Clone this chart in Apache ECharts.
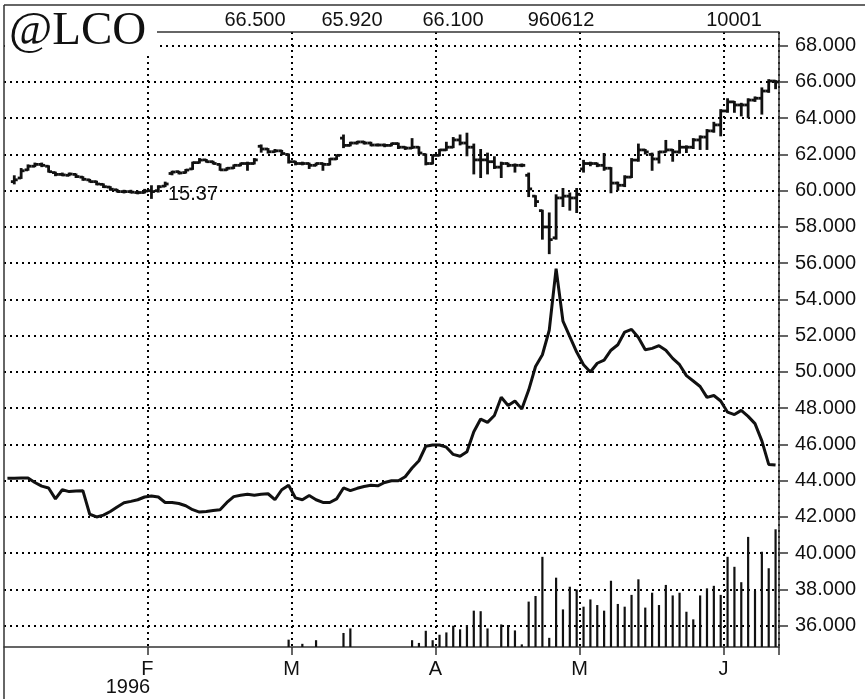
<!DOCTYPE html>
<html>
<head>
<meta charset="utf-8">
<title>@LCO</title>
<script src="https://cdn.jsdelivr.net/npm/echarts@6/dist/echarts.min.js"></script>
<style>
  html, body { margin: 0; padding: 0; background: #fff; }
  #chart { width: 865px; height: 699px; }
</style>
</head>
<body>
<div id="chart"></div>
<script>
// trading days per month (Jan..Jun 1996)
var monthNames = ['Jan', 'Feb', 'Mar', 'Apr', 'May', 'Jun'];
var tradingDays = [21, 21, 21, 21, 21, 8];
var yearLabel = '1996';
var priceTicks = [36, 38, 40, 42, 44, 46, 48, 50, 52, 54, 56, 58, 60, 62, 64, 66, 68];
var headerValues = ['66.500', '65.920', '66.100', '960612', '10001'];
var titleText = '@LCO';
var noteText = '15.37';

// middle line
var lineVals = [
  44.13, 44.14, 44.15, 44.15, 43.9, 43.7, 43.6, 43.0, 43.5, 43.4,
  43.43, 43.45, 42.15, 42.0, 42.1, 42.3, 42.55, 42.78, 42.86, 42.95,
  43.1, 43.16, 43.1, 42.8, 42.8, 42.74, 42.62, 42.4, 42.27, 42.3,
  42.35, 42.4, 42.8, 43.12, 43.2, 43.25, 43.2, 43.25, 43.28, 42.95,
  43.5, 43.75, 43.05, 42.95, 43.18, 42.95, 42.8, 42.8, 43.0, 43.6,
  43.45, 43.58, 43.68, 43.75, 43.72, 43.9, 44.0, 44.0, 44.22, 44.7,
  45.1, 45.9, 45.97, 45.97, 45.85, 45.45, 45.35, 45.6, 46.7, 47.4,
  47.22, 47.6, 48.6, 48.15, 48.4, 47.95, 49.0, 50.3, 50.95, 52.3,
  55.7, 52.8, 51.95, 51.1, 50.4, 50.0, 50.48, 50.65, 51.2, 51.5,
  52.2, 52.35, 51.9, 51.22, 51.3, 51.45, 51.2, 50.75, 50.4, 49.8,
  49.5, 49.2, 48.6, 48.7, 48.4, 47.78, 47.65, 47.88, 47.55, 47.15,
  46.2, 44.9, 44.86
];

// price bars (open / high / low / close)
var ohlcOpen = [null,
  60.5, 60.7, 61.15, 61.35, 61.45, 61.35, 61.0, 60.9, 60.85, 60.9,
  60.75, 60.6, 60.5, 60.35, 60.2, 60.05, 59.95, 59.95, 59.9, 59.9,
  60.0, 60.0, 60.25, 60.95, 61.05, 61.0, 61.2, 61.55, 61.7, 61.6,
  61.45, 61.15, 61.25, 61.4, 61.5, 61.5, 62.45, 62.3, 62.15, 62.2,
  62.0, 61.6, 61.5, 61.5, 61.4, 61.5, 61.45, 61.75, 62.9, 62.5,
  62.63, 62.69, 62.63, 62.52, 62.52, 62.5, 62.6, 62.4, 62.35, 62.4,
  62.0, 61.5, 61.95, 62.25, 62.4, 62.8, 62.63, 62.4, 61.7, 61.7,
  61.6, 61.3, 61.5, 61.4, 61.4, 60.85, 59.7, 58.9, 58.0, 57.4,
  59.6, 59.7, 59.6, 61.2, 61.5, 61.5, 61.4, 61.24, 60.42, 60.3,
  60.75, 61.69, 62.25, 62.0, 61.75, 62.14, 62.25, 62.14, 62.4, 62.4,
  62.8, 62.96, 63.3, 63.63, 64.4, 64.9, 64.73, 64.73, 65.0, 65.1,
  65.5, 66.05
];
var ohlcHigh = [null,
  60.85, 61.25, 61.45, 61.55, 61.55, 61.4, 61.05, 61.0, 61.0, 60.95,
  60.8, 60.65, 60.55, 60.4, 60.25, 60.1, 60.05, 60.05, 60.0, 60.1,
  60.3, 60.3, 60.5, 61.1, 61.1, 61.2, 61.6, 61.8, 61.75, 61.65,
  61.5, 61.3, 61.45, 61.55, 61.6, 61.8, 62.55, 62.35, 62.3, 62.25,
  62.05, 61.65, 61.6, 61.55, 61.55, 61.55, 61.8, 62.0, 63.1, 62.7,
  62.75, 62.75, 62.7, 62.6, 62.6, 62.65, 62.65, 62.45, 62.9, 62.45,
  62.05, 62.0, 62.3, 62.7, 62.96, 63.1, 63.2, 62.6, 62.3, 62.1,
  61.9, 61.6, 61.55, 61.5, 61.5, 61.0, 59.75, 58.95, 58.8, 59.8,
  60.15, 59.9, 60.15, 61.7, 61.6, 61.55, 62.08, 61.3, 60.5, 60.85,
  61.8, 62.6, 62.3, 62.1, 62.2, 62.8, 62.3, 62.8, 62.5, 62.9,
  63.05, 63.4, 63.8, 64.5, 65.1, 64.95, 64.85, 65.1, 65.2, 65.7,
  66.15, 66.1
];
var ohlcLow = [null,
  60.35, 60.65, 61.1, 61.3, 61.3, 61.0, 60.8, 60.8, 60.8, 60.7,
  60.55, 60.45, 60.3, 60.15, 60.0, 59.9, 59.85, 59.85, 59.8, 59.85,
  59.55, 59.9, 60.2, 60.85, 60.9, 60.95, 61.15, 61.5, 61.55, 61.45,
  61.1, 61.1, 61.2, 61.35, 61.1, 61.45, 62.1, 62.05, 62.1, 61.95,
  61.5, 61.4, 61.4, 61.2, 61.35, 61.1, 61.4, 61.7, 62.35, 62.45,
  62.55, 62.55, 62.45, 62.45, 62.4, 62.45, 62.3, 62.25, 62.3, 62.0,
  61.4, 61.45, 61.9, 62.2, 62.35, 62.5, 61.9, 60.9, 60.7, 60.9,
  61.2, 60.7, 61.3, 61.0, 61.3, 59.65, 59.1, 57.3, 56.5, 57.3,
  59.1, 58.9, 58.77, 61.0, 61.35, 61.3, 61.1, 59.86, 60.0, 60.2,
  60.7, 61.6, 62.0, 61.1, 61.5, 62.1, 61.6, 62.05, 62.08, 62.3,
  62.25, 62.25, 63.2, 63.0, 64.3, 64.3, 64.1, 64.0, 64.9, 64.2,
  65.4, 65.6
];
var ohlcClose = [null,
  60.6, 61.1, 61.35, 61.45, 61.4, 61.05, 60.9, 60.87, 60.92, 60.78,
  60.63, 60.5, 60.37, 60.22, 60.08, 59.95, 59.95, 59.92, 59.9, 59.98,
  59.95, 60.22, 60.37, 61.03, 60.98, 61.14, 61.55, 61.69, 61.6, 61.5,
  61.15, 61.24, 61.4, 61.5, 61.5, 61.7, 62.3, 62.15, 62.2, 62.05,
  61.6, 61.5, 61.5, 61.4, 61.5, 61.45, 61.75, 61.95, 62.5, 62.63,
  62.69, 62.63, 62.52, 62.52, 62.5, 62.6, 62.4, 62.35, 62.4, 62.08,
  61.5, 61.95, 62.25, 62.4, 62.8, 62.63, 62.4, 61.7, 61.7, 61.6,
  61.3, 61.5, 61.4, 61.4, 61.4, 60.1, 59.4, 58.0, 57.3, 59.6,
  59.7, 59.6, 59.8, 61.5, 61.5, 61.4, 61.24, 60.42, 60.3, 60.75,
  61.69, 62.25, 62.14, 61.75, 62.14, 62.25, 62.14, 62.4, 62.4, 62.8,
  62.96, 63.3, 63.63, 64.4, 64.9, 64.73, 64.73, 65.0, 65.1, 65.5,
  66.05, 66.0
];

// volume sticks (same scale, drawn up from the bottom)
var volume = [
  null, null, null, null, null, null, null, null, null, null,
  null, null, null, null, null, null, null, null, null, null,
  null, null, null, null, null, null, null, null, null, null,
  null, null, null, null, null, null, null, null, null, null,
  null, 35.23, null, 35.0, null, 35.2, null, null, null, 35.6,
  35.85, null, null, null, null, null, null, null, null, 35.2,
  35.05, 35.72, 35.2, 35.5, 35.63, 36.0, 35.8, 36.04, 36.83, 36.8,
  35.85, null, 36.07, 36.04, 35.74, 34.97, 37.33, 37.64, 39.8, 35.33,
  38.65, 36.9, 38.15, 38.0, 37.05, 37.45, 37.14, 36.83, 38.48, 37.2,
  37.05, 37.7, 38.56, 37.0, 37.82, 37.14, 38.25, 37.67, 37.82, 36.77,
  36.35, 37.67, 38.06, 38.2, 37.7, 39.8, 39.25, 38.4, 40.9, 37.93,
  40.08, 39.17, 41.32
];

var Y_MIN = 34.825;
var Y_MAX = 68.756;
var FONT = 'Liberation Sans';
var INK = '#111';

// category axis = trading days, month boundaries get the ticks
var categories = [];
var monthStart = {};
monthNames.forEach(function (m, k) {
  if (k > 0) monthStart[categories.length] = true;
  for (var d = 1; d <= tradingDays[k]; d++) categories.push(m + ' ' + d);
});
function isMonthStart(idx) { return !!monthStart[idx]; }

var ohlcData = [];
var volData = [];
for (var i = 0; i < categories.length; i++) {
  if (ohlcClose[i] != null) ohlcData.push([i, ohlcOpen[i], ohlcHigh[i], ohlcLow[i], ohlcClose[i]]);
  if (volume[i] != null) volData.push([i, volume[i]]);
}

function renderBar(params, api) {
  var x = api.value(0);
  var o = api.coord([x, api.value(1)]);
  var h = api.coord([x, api.value(2)]);
  var l = api.coord([x, api.value(3)]);
  var c = api.coord([x, api.value(4)]);
  var half = api.size([1, 0])[0] / 2;
  var st = { stroke: INK, lineWidth: 2.8, fill: null };
  return {
    type: 'group',
    children: [
      { type: 'line', shape: { x1: h[0], y1: h[1], x2: l[0], y2: l[1] }, style: st },
      { type: 'line', shape: { x1: o[0] - half, y1: o[1], x2: o[0], y2: o[1] }, style: st },
      { type: 'line', shape: { x1: c[0], y1: c[1], x2: c[0] + half, y2: c[1] }, style: st }
    ]
  };
}

function renderStick(params, api) {
  var x = api.value(0);
  var top = api.coord([x, api.value(1)]);
  var bottom = api.coord([x, Y_MIN]);
  return {
    type: 'line',
    shape: { x1: top[0], y1: top[1], x2: bottom[0], y2: bottom[1] },
    style: { stroke: INK, lineWidth: 2.2, fill: null }
  };
}

var dotted = { color: '#000', width: 2, type: [2, 4] };
var frame = { stroke: '#333', lineWidth: 1.5 };

// header numbers, centred over these x positions
var headerPos = [255, 352, 453, 561, 734];
var graphics = [
  { type: 'line', z: 100, shape: { x1: 4, y1: 5, x2: 865, y2: 5 }, style: frame },
  { type: 'line', z: 100, shape: { x1: 4, y1: 5, x2: 4, y2: 699 }, style: frame },
  { type: 'line', z: 100, shape: { x1: 157, y1: 32, x2: 779, y2: 32 }, style: frame },
  { type: 'rect', z: 99, shape: { x: 5, y: 6, width: 152, height: 46 }, style: { fill: '#fff' } },
  { type: 'text', z: 101, x: 9, y: 32,
    style: { text: titleText, fontFamily: 'Liberation Serif', fontSize: 47, fill: INK, align: 'left', verticalAlign: 'middle' } },
  { type: 'text', z: 101, x: 168, y: 194,
    style: { text: noteText, fontFamily: FONT, fontSize: 20, fill: INK, align: 'left', verticalAlign: 'middle' } }
];
headerValues.forEach(function (t, k) {
  graphics.push({ type: 'text', z: 101, x: headerPos[k], y: 20,
    style: { text: t, fontFamily: FONT, fontSize: 20, fill: INK, align: 'center', verticalAlign: 'middle' } });
});

var myChart = echarts.init(document.getElementById('chart'));
var option = {
  animation: false,
  backgroundColor: '#fff',
  grid: { left: 4, right: 86, top: 32, bottom: 52, containLabel: false, outerBoundsMode: 'none' },
  xAxis: {
    type: 'category',
    data: categories,
    boundaryGap: true,
    axisLine: { show: true, onZero: false, lineStyle: { color: '#333', width: 1.5 } },
    axisTick: { show: true, interval: isMonthStart, length: 8, lineStyle: { color: '#333', width: 1.5 } },
    axisLabel: {
      interval: isMonthStart,
      margin: 12,
      formatter: function (value) {
        var letter = value.charAt(0);
        if (value.indexOf('Feb') === 0) return '{m|' + letter + '}\n{y|' + yearLabel + '}';
        return '{m|' + letter + '}';
      },
      rich: {
        m: { fontFamily: FONT, fontSize: 20, color: INK, lineHeight: 20, padding: [0, 8, 0, 0] },
        y: { fontFamily: FONT, fontSize: 20, color: INK, lineHeight: 16, padding: [0, 47, 0, 0] }
      }
    },
    splitLine: { show: true, interval: isMonthStart, lineStyle: dotted }
  },
  yAxis: {
    type: 'value',
    position: 'right',
    min: Y_MIN,
    max: Y_MAX,
    minInterval: 2,
    maxInterval: 2,
    axisLine: { show: true, lineStyle: { color: '#333', width: 1.5 } },
    axisTick: { show: true, inside: false, length: 9, customValues: priceTicks, lineStyle: { color: '#333', width: 1.5 } },
    axisLabel: {
      customValues: priceTicks,
      margin: 16,
      fontFamily: FONT,
      fontSize: 20,
      color: INK,
      formatter: function (v) {
        if (Math.abs(v / 2 - Math.round(v / 2)) > 1e-6) return '';
        return v.toFixed(3);
      }
    },
    splitLine: { show: true, lineStyle: dotted }
  },
  series: [
    {
      name: 'bars',
      type: 'custom',
      renderItem: renderBar,
      encode: { x: 0, y: [1, 2, 3, 4] },
      data: ohlcData,
      clip: true,
      z: 3
    },
    {
      name: 'line',
      type: 'line',
      data: lineVals,
      showSymbol: false,
      symbol: 'none',
      lineStyle: { color: INK, width: 3 },
      z: 3
    },
    {
      name: 'volume',
      type: 'custom',
      renderItem: renderStick,
      encode: { x: 0, y: 1 },
      data: volData,
      clip: true,
      z: 3
    }
  ],
  graphic: graphics
};
myChart.setOption(option);
window.onresize = myChart.resize;
</script>
</body>
</html>
